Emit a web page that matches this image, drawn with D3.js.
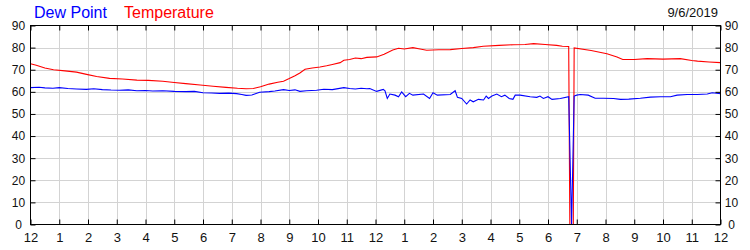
<!DOCTYPE html>
<html><head><meta charset="utf-8">
<script src="https://cdn.jsdelivr.net/npm/d3@7"></script>
<style>
html,body{margin:0;padding:0;background:#fff;}
svg{display:block;font-family:"Liberation Sans",Arial,sans-serif;}
</style></head>
<body><svg id="c" width="750" height="250"></svg>
<script>
// ---- data ----
const xTickHours = [0,1,2,3,4,5,6,7,8,9,10,11,12,13,14,15,16,17,18,19,20,21,22,23,24];
const xTickLabels = ["12","1","2","3","4","5","6","7","8","9","10","11","12","1","2","3","4","5","6","7","8","9","10","11","12"];
const yTicks = [0,10,20,30,40,50,60,70,80,90];
const dateLabel = "9/6/2019";
const seriesNames = ["Dew Point","Temperature"];

const tempHours = [0,0.2,0.5,0.8,1.2,1.6,1.95,2.3,2.75,3.2,3.7,4.1,4.6,5.0,5.4,5.9,6.35,6.8,7.2,7.5,7.75,8.0,8.3,8.6,8.8,9.0,9.2,9.37,9.55,9.8,10.07,10.3,10.5,10.77,10.9,11.1,11.3,11.5,11.7,12.04,12.3,12.6,12.8,13.0,13.3,13.55,13.78,14.2,14.6,15.0,15.4,15.75,16.3,16.8,17.2,17.5,17.9,18.3,18.5,18.72,18.76,18.88,18.91,19.5,20.05,20.4,20.6,21.0,21.45,22.0,22.6,23.0,23.2,23.6,24];
const tempValues = [72.7,72.0,70.8,70.0,69.5,68.9,67.9,66.9,66.1,65.8,65.3,65.2,64.8,64.2,63.7,63.1,62.5,62.0,61.6,61.4,61.5,62.3,63.5,64.3,64.8,66.0,67.3,68.5,70.2,70.8,71.2,71.8,72.4,73.2,74.3,74.6,75.3,75.0,75.6,75.8,77.0,78.9,79.7,79.4,80.0,79.4,78.8,79.0,79.1,79.6,80.0,80.6,81.0,81.3,81.4,81.8,81.4,81.0,80.6,80.5,0,0,79.9,78.7,77.2,75.8,74.6,74.6,75.0,74.8,75.0,74.2,73.9,73.5,73.2];

const dewHours = [0,0.3,0.5,0.78,1.0,1.3,1.6,1.94,2.2,2.5,2.8,3.1,3.4,3.7,4.0,4.25,4.6,5.0,5.4,5.7,6.0,6.3,6.58,6.9,7.17,7.35,7.5,7.7,7.97,8.3,8.5,8.8,9.0,9.2,9.37,9.6,9.95,10.2,10.5,10.9,11.1,11.3,11.5,11.7,11.8,12.04,12.27,12.33,12.41,12.5,12.68,12.8,12.91,13.05,13.18,13.3,13.67,13.88,14.0,14.15,14.6,14.77,14.85,15.0,15.17,15.29,15.4,15.58,15.76,15.85,15.93,16.05,16.22,16.38,16.5,16.65,16.78,16.86,17.03,17.38,17.61,17.72,17.84,18.0,18.14,18.43,18.72,18.82,18.91,19.0,19.12,19.4,19.64,19.93,20.28,20.52,20.81,21.21,21.56,21.91,22.26,22.49,22.84,23.19,23.54,23.71,24];
const dewValues = [61.9,62.1,61.8,61.6,61.9,61.5,61.3,61.1,61.4,61.0,60.8,60.7,60.9,60.5,60.6,60.4,60.5,60.2,60.1,60.2,59.6,59.5,59.3,59.4,59.2,58.8,58.4,58.6,59.8,60.1,60.4,61.0,60.6,60.9,60.2,60.5,60.7,61.2,61.0,61.9,61.5,61.3,61.6,61.4,61.5,60.2,61.1,60.5,57.0,59.0,58.5,57.8,60.0,57.8,59.3,58.5,59.0,57.0,59.6,58.5,58.8,60.5,57.5,57.0,54.5,56.3,55.5,56.6,56.3,58.1,57.0,58.1,59.0,57.8,58.5,57.0,56.6,58.5,58.5,57.8,57.5,58.1,57.0,57.8,56.6,57.0,57.8,0,58.1,58.5,58.8,58.5,57.1,57.1,57.0,56.6,56.7,57.1,57.6,57.8,57.8,58.5,58.8,58.8,59.0,59.6,59.2];

// ---- chart ----
const svg = d3.select("#c");
const L = 30.5, R = 720.5, T = 25.5, B = 224.5;
const x = d3.scaleLinear().domain([0,24]).range([L,R]);
const y = d3.scaleLinear().domain([0,90]).range([B,T]);
const grid = "#d3d3d3";

// grid
svg.append("g").selectAll("line.v").data(xTickHours.slice(1,-1)).join("line")
  .attr("x1",d=>Math.round(x(d))+0.5).attr("x2",d=>Math.round(x(d))+0.5)
  .attr("y1",T).attr("y2",B).attr("stroke",grid).attr("stroke-width",1);
svg.append("g").selectAll("line.h").data(yTicks.slice(1,-1)).join("line")
  .attr("x1",L).attr("x2",R)
  .attr("y1",d=>Math.round(y(d))+0.5).attr("y2",d=>Math.round(y(d))+0.5)
  .attr("stroke",grid).attr("stroke-width",1);

// series
const line = d3.line().x(d=>x(d[0])).y(d=>y(d[1]));
svg.append("path").datum(tempHours.map((h,i)=>[h,tempValues[i]]))
  .attr("d",line).attr("fill","none").attr("stroke","#ff0000").attr("stroke-width",1.1);
svg.append("path").datum(dewHours.map((h,i)=>[h,dewValues[i]]))
  .attr("d",line).attr("fill","none").attr("stroke","#0000ff").attr("stroke-width",1.1);

// frame
svg.append("rect").attr("x",L).attr("y",T).attr("width",R-L).attr("height",B-T)
  .attr("fill","none").attr("stroke","#000").attr("stroke-width",1);

// axes (ticks inward)
const fmtX = (d,i)=>xTickLabels[i];
const axB = d3.axisBottom(x).tickValues(xTickHours).tickFormat(fmtX).tickSize(-5).tickPadding(8);
const axT = d3.axisTop(x).tickValues(xTickHours).tickFormat("").tickSize(-5);
const axL = d3.axisLeft(y).tickValues(yTicks).tickSize(-5).tickPadding(6);
const axR = d3.axisRight(y).tickValues(yTicks).tickSize(-5).tickPadding(6);
function style(g){ g.select(".domain").remove(); g.selectAll("line").attr("stroke","#000"); g.selectAll("text").attr("fill","#111").attr("font-family",'"Liberation Sans",Arial,sans-serif'); }
svg.append("g").attr("transform",`translate(0,${B})`).call(axB).call(style).selectAll("text").attr("font-size",13);
svg.append("g").attr("transform",`translate(0,${T})`).call(axT).call(style);
const gl = svg.append("g").attr("transform",`translate(${L},0)`).call(axL).call(style);
gl.selectAll("text").attr("font-size",12).attr("text-anchor","middle").attr("x",-12);
const gr = svg.append("g").attr("transform",`translate(${R},0)`).call(axR).call(style);
gr.selectAll("text").attr("font-size",12).attr("text-anchor","middle").attr("x",11);

// legend & date
svg.append("text").attr("x",34).attr("y",18).attr("font-size",16).attr("fill","#0000ff").text(seriesNames[0]);
svg.append("text").attr("x",124).attr("y",18).attr("font-size",16).attr("fill","#ff0000").text(seriesNames[1]);
svg.append("text").attr("x",718).attr("y",17).attr("font-size",13).attr("text-anchor","end").attr("fill","#111").text(dateLabel);
</script></body></html>
